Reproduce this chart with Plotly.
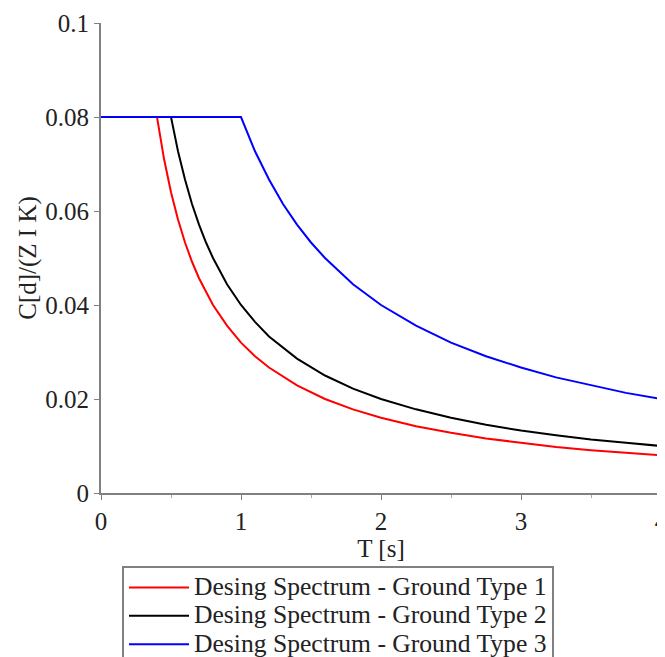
import plotly.graph_objects as go

# Ground Type 1
t1 = [0, 0.4, 0.45, 0.5, 0.55, 0.6, 0.65, 0.7, 0.8, 0.9, 1.0, 1.1, 1.2, 1.4, 1.6, 1.8, 2.0,
      2.25, 2.5, 2.75, 3.0, 3.25, 3.5, 3.75, 4.0]
c1 = [0.08, 0.08, 0.0711, 0.064, 0.0582, 0.0533, 0.0492, 0.0457, 0.04, 0.0356, 0.032, 0.0291,
      0.0267, 0.0229, 0.02, 0.0178, 0.016, 0.0142, 0.0128, 0.0116, 0.0107, 0.0098, 0.0091,
      0.0085, 0.008]

# Ground Type 2
t2 = [0, 0.5, 0.55, 0.6, 0.65, 0.7, 0.75, 0.8, 0.9, 1.0, 1.1, 1.2, 1.4, 1.6, 1.8, 2.0,
      2.25, 2.5, 2.75, 3.0, 3.25, 3.5, 3.75, 4.0]
c2 = [0.08, 0.08, 0.0727, 0.0667, 0.0615, 0.0571, 0.0533, 0.05, 0.0444, 0.04, 0.0364, 0.0333,
      0.0286, 0.025, 0.0222, 0.02, 0.0178, 0.016, 0.0145, 0.0133, 0.0123, 0.0114, 0.0107, 0.01]

# Ground Type 3
t3 = [0, 1.0, 1.1, 1.2, 1.3, 1.4, 1.5, 1.6, 1.8, 2.0, 2.25, 2.5, 2.75, 3.0, 3.25, 3.5, 3.75, 4.0]
c3 = [0.08, 0.08, 0.0727, 0.0667, 0.0615, 0.0571, 0.0533, 0.05, 0.0444, 0.04, 0.0356, 0.032,
      0.0291, 0.0267, 0.0246, 0.0229, 0.0213, 0.02]

names = ["Desing Spectrum - Ground Type 1",
         "Desing Spectrum - Ground Type 2",
         "Desing Spectrum - Ground Type 3"]
colors = ["#ff0000", "#000000", "#0000ff"]

x_ticks = [0, 1, 2, 3, 4]
y_ticks = [0, 0.02, 0.04, 0.06, 0.08, 0.1]
y_tick_text = ["0", "0.02", "0.04", "0.06", "0.08", "0.1"]

FONT = "Liberation Serif"
TXT = "#222222"

fig = go.Figure()
for t, c, n, col in zip([t1, t2, t3], [c1, c2, c3], names, colors):
    fig.add_trace(go.Scatter(x=t, y=c, mode="lines",
                             name='<span style="font-size:25.6px">' + n + '</span>',
                             line=dict(color=col, width=2)))

fig.update_layout(
    width=657, height=649,
    margin=dict(l=93, r=4, t=15, b=164, autoexpand=False),
    paper_bgcolor="white", plot_bgcolor="white",
    font=dict(family=FONT, size=25, color=TXT),
    showlegend=True,
    legend=dict(x=0.0375, xanchor="left", y=-0.156, yanchor="top",
                bordercolor="#808080", borderwidth=2, maxheight=300,
                font=dict(family=FONT, size=19.5, color=TXT),
                itemwidth=60, tracegroupgap=0, bgcolor="white"),
)
fig.update_xaxes(range=[0, 4], tickvals=x_ticks, showgrid=False, zeroline=False,
                 showline=True, linecolor="#808080", linewidth=2,
                 ticks="outside", ticklen=5, tickcolor="#808080", tickwidth=1,
                 ticklabeloverflow="allow", automargin=False,
                 tickfont=dict(family=FONT, size=25, color=TXT),
                 minor=dict(dtick=0.5, ticks="outside", ticklen=3, tickcolor="#aaaaaa"),
                 title=dict(text="T [s]", standoff=4,
                            font=dict(family=FONT, size=25, color=TXT)))
fig.update_yaxes(range=[0, 0.1], tickvals=y_ticks, ticktext=y_tick_text, showgrid=False,
                 zeroline=False, showline=True, linecolor="#808080", linewidth=2,
                 ticks="outside", ticklen=5, tickcolor="#808080", tickwidth=1,
                 automargin=False,
                 tickfont=dict(family=FONT, size=25, color=TXT),
                 title=dict(text="C[d]/(Z I K)", standoff=2,
                            font=dict(family=FONT, size=25, color=TXT)))

fig.write_html("out.html")
